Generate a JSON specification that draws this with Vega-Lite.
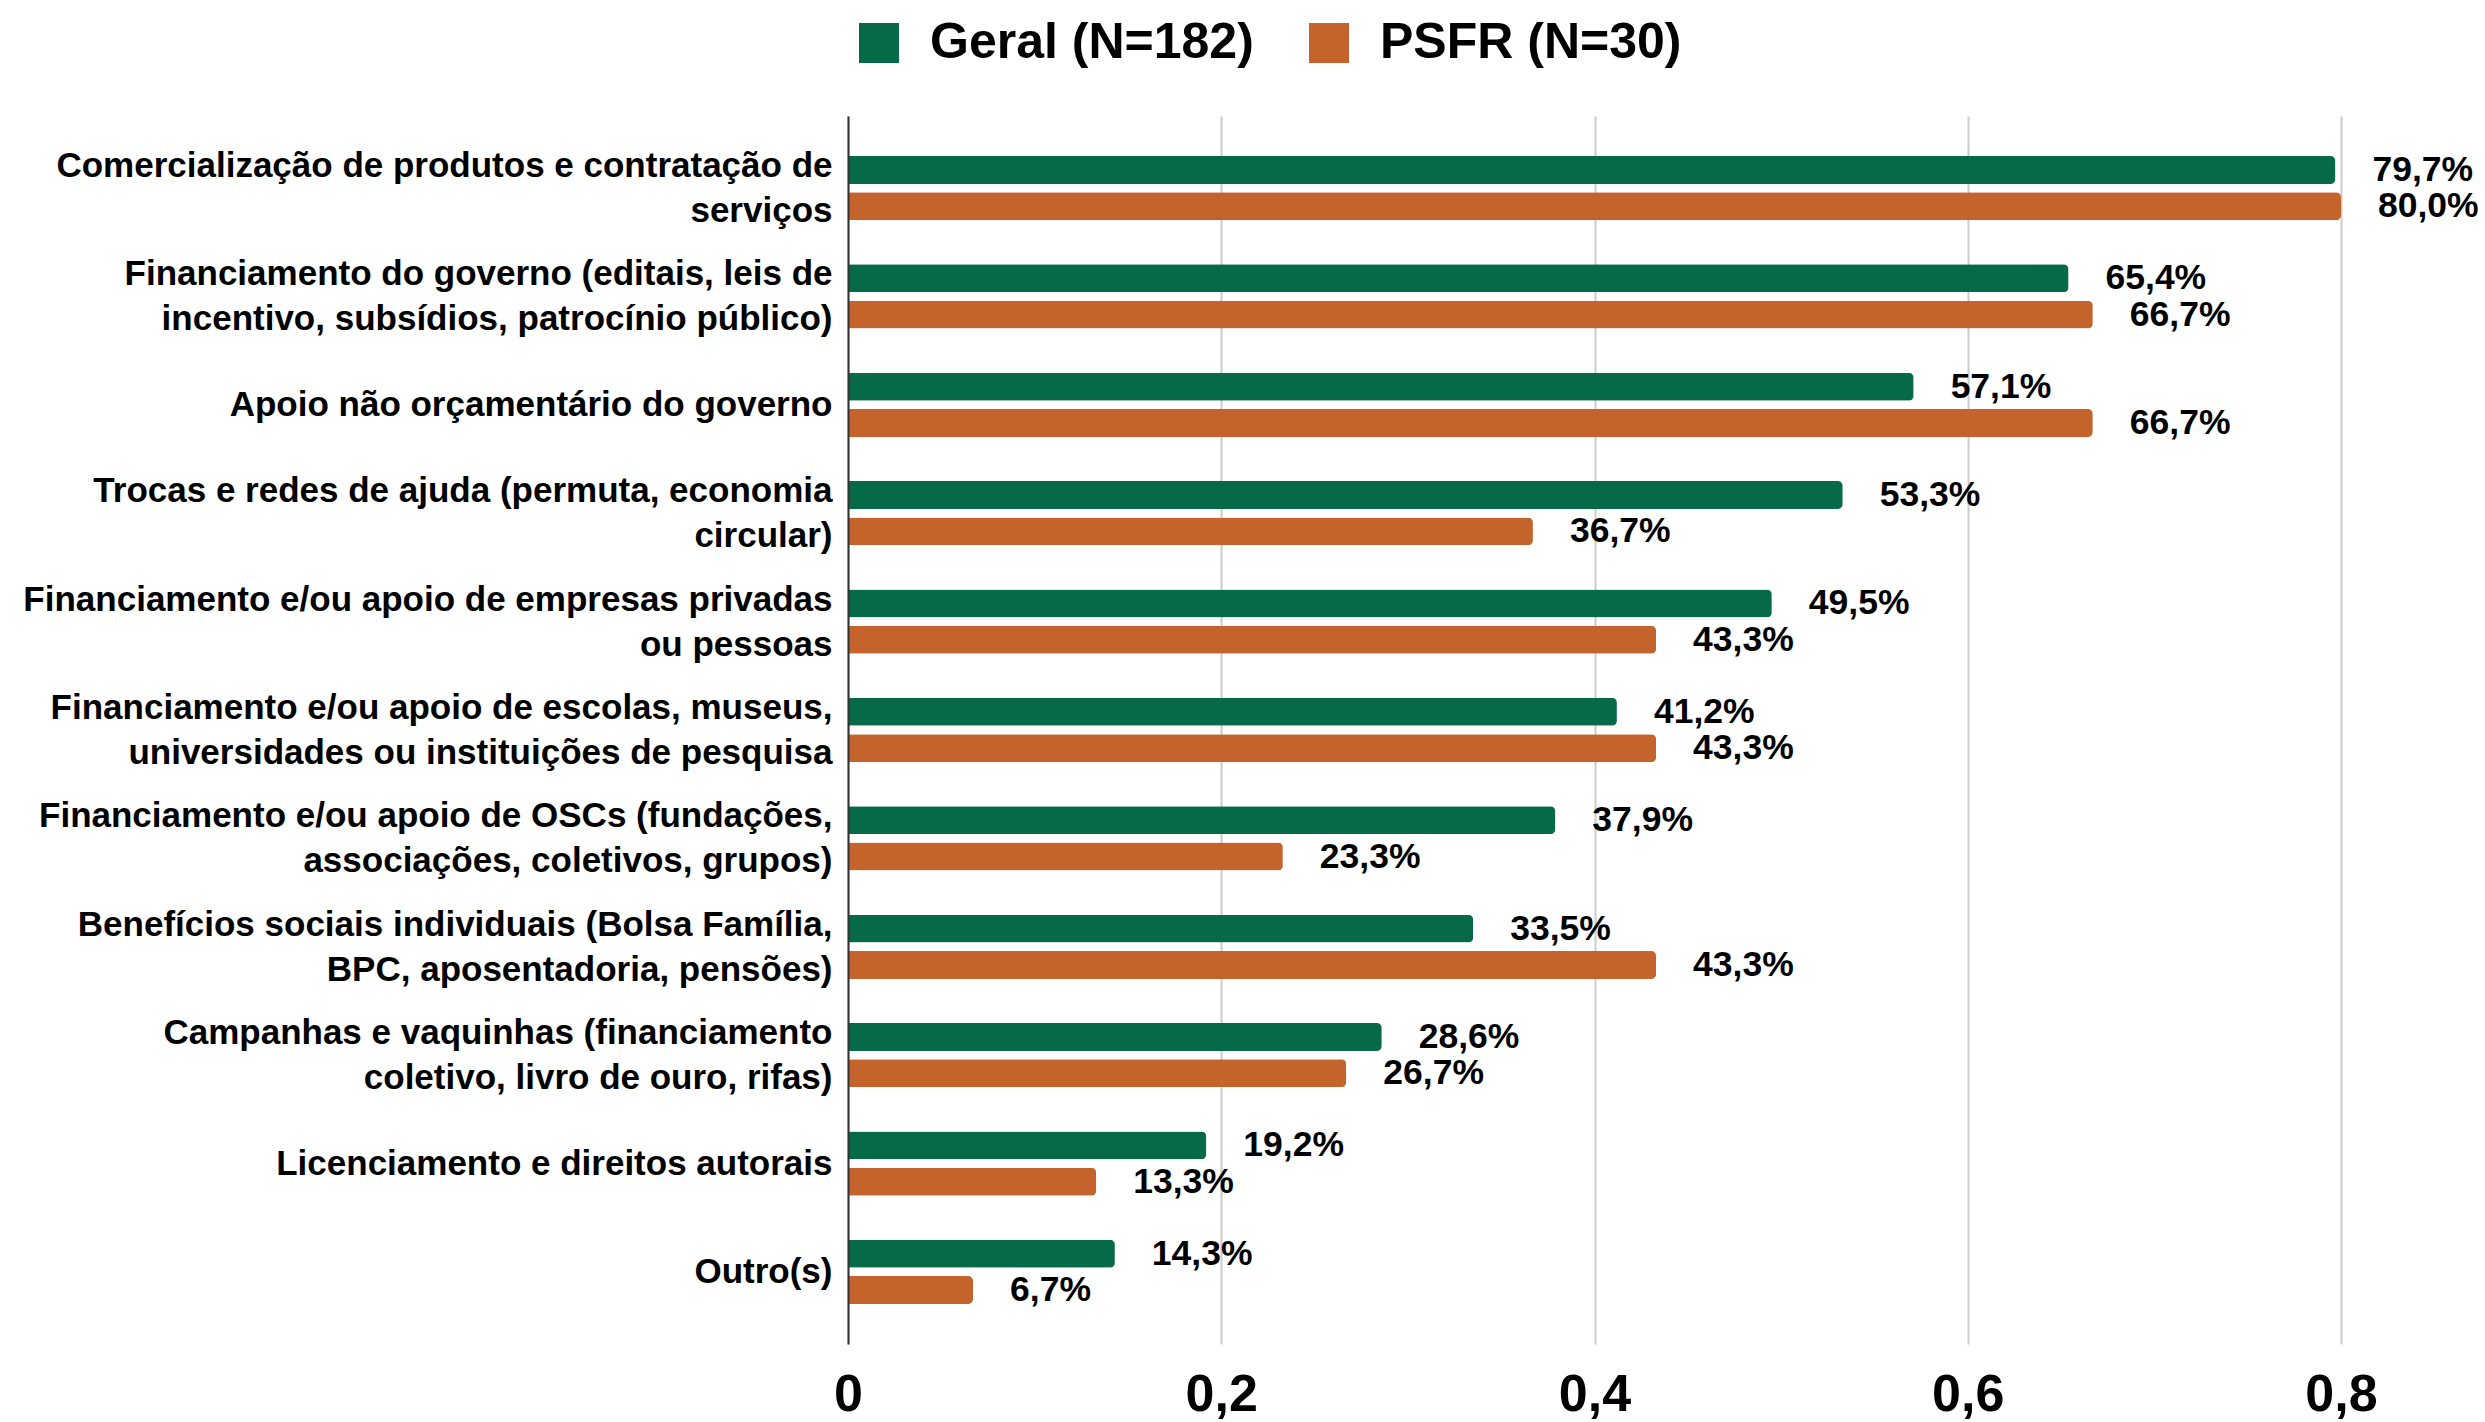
{
  "$schema": "https://vega.github.io/schema/vega-lite/v6.json",
  "width": 1493,
  "height": 1228,
  "autosize": {"type": "none"},
  "padding": {"left": 848, "top": 116, "right": 144, "bottom": 78},
  "background": "white",
  "data": {
    "values": [
      {"categoria": "Comercialização de produtos e contratação de\nserviços", "grupo": "Geral (N=182)", "valor": 0.797},
      {"categoria": "Comercialização de produtos e contratação de\nserviços", "grupo": "PSFR (N=30)", "valor": 0.800},
      {"categoria": "Financiamento do governo (editais, leis de\nincentivo, subsídios, patrocínio público)", "grupo": "Geral (N=182)", "valor": 0.654},
      {"categoria": "Financiamento do governo (editais, leis de\nincentivo, subsídios, patrocínio público)", "grupo": "PSFR (N=30)", "valor": 0.667},
      {"categoria": "Apoio não orçamentário do governo", "grupo": "Geral (N=182)", "valor": 0.571},
      {"categoria": "Apoio não orçamentário do governo", "grupo": "PSFR (N=30)", "valor": 0.667},
      {"categoria": "Trocas e redes de ajuda (permuta, economia\ncircular)", "grupo": "Geral (N=182)", "valor": 0.533},
      {"categoria": "Trocas e redes de ajuda (permuta, economia\ncircular)", "grupo": "PSFR (N=30)", "valor": 0.367},
      {"categoria": "Financiamento e/ou apoio de empresas privadas\nou pessoas", "grupo": "Geral (N=182)", "valor": 0.495},
      {"categoria": "Financiamento e/ou apoio de empresas privadas\nou pessoas", "grupo": "PSFR (N=30)", "valor": 0.433},
      {"categoria": "Financiamento e/ou apoio de escolas, museus,\nuniversidades ou instituições de pesquisa", "grupo": "Geral (N=182)", "valor": 0.412},
      {"categoria": "Financiamento e/ou apoio de escolas, museus,\nuniversidades ou instituições de pesquisa", "grupo": "PSFR (N=30)", "valor": 0.433},
      {"categoria": "Financiamento e/ou apoio de OSCs (fundações,\nassociações, coletivos, grupos)", "grupo": "Geral (N=182)", "valor": 0.379},
      {"categoria": "Financiamento e/ou apoio de OSCs (fundações,\nassociações, coletivos, grupos)", "grupo": "PSFR (N=30)", "valor": 0.233},
      {"categoria": "Benefícios sociais individuais (Bolsa Família,\nBPC, aposentadoria, pensões)", "grupo": "Geral (N=182)", "valor": 0.335},
      {"categoria": "Benefícios sociais individuais (Bolsa Família,\nBPC, aposentadoria, pensões)", "grupo": "PSFR (N=30)", "valor": 0.433},
      {"categoria": "Campanhas e vaquinhas (financiamento\ncoletivo, livro de ouro, rifas)", "grupo": "Geral (N=182)", "valor": 0.286},
      {"categoria": "Campanhas e vaquinhas (financiamento\ncoletivo, livro de ouro, rifas)", "grupo": "PSFR (N=30)", "valor": 0.267},
      {"categoria": "Licenciamento e direitos autorais", "grupo": "Geral (N=182)", "valor": 0.192},
      {"categoria": "Licenciamento e direitos autorais", "grupo": "PSFR (N=30)", "valor": 0.133},
      {"categoria": "Outro(s)", "grupo": "Geral (N=182)", "valor": 0.143},
      {"categoria": "Outro(s)", "grupo": "PSFR (N=30)", "valor": 0.067}
    ]
  },
  "encoding": {
    "y": {
      "field": "categoria",
      "type": "nominal",
      "sort": null,
      "scale": {"paddingInner": 0.33, "paddingOuter": 0.33},
      "axis": {
        "title": null,
        "labelExpr": "split(datum.value, '\\n')",
        "labelOffset": {"condition": {"test": "indexof(datum.value, '\\n') >= 0", "value": -22}, "value": 0},
        "labelFont": "Liberation Sans",
        "labelFontWeight": "bold",
        "labelFontSize": 35,
        "labelLineHeight": 45,
        "labelColor": "#000000",
        "labelPadding": 16,
        "labelLimit": 0,
        "ticks": false,
        "domain": true,
        "domainColor": "#333333",
        "domainWidth": 2,
        "grid": false,
        "zindex": 1
      }
    },
    "yOffset": {
      "field": "grupo",
      "type": "nominal",
      "scale": {"paddingInner": 0.23, "paddingOuter": 0.115}
    },
    "x": {
      "field": "valor",
      "type": "quantitative",
      "scale": {"domain": [0, 0.8], "nice": false, "zero": true},
      "axis": {
        "title": null,
        "values": [0, 0.2, 0.4, 0.6, 0.8],
        "format": ".1~f",
        "labelFont": "Liberation Sans",
        "labelFontWeight": "bold",
        "labelFontSize": 52,
        "labelColor": "#000000",
        "labelPadding": 25,
        "labelFlush": false,
        "ticks": false,
        "domain": false,
        "grid": true,
        "gridColor": "#cccccc",
        "gridWidth": 2
      }
    }
  },
  "layer": [
    {
      "mark": {"type": "bar", "cornerRadiusEnd": 5},
      "encoding": {
        "color": {
          "field": "grupo",
          "type": "nominal",
          "scale": {"domain": ["Geral (N=182)", "PSFR (N=30)"], "range": ["#066a48", "#c4642c"]},
          "legend": {
            "title": null,
            "orient": "none",
            "direction": "horizontal",
            "legendX": 6,
            "legendY": -98,
            "symbolType": "square",
            "symbolSize": 1600,
            "symbolStrokeWidth": 0,
            "labelFont": "Liberation Sans",
            "labelFontWeight": "bold",
            "labelFontSize": 50,
            "labelColor": "#000000",
            "labelOffset": 26,
            "labelLimit": 0,
            "columnPadding": 50,
            "padding": 0
          }
        }
      }
    },
    {
      "mark": {
        "type": "text",
        "align": "left",
        "baseline": "middle",
        "dx": 37,
        "font": "Liberation Sans",
        "fontWeight": "bold",
        "fontSize": 35.5,
        "color": "#000000"
      },
      "encoding": {
        "text": {"field": "valor", "type": "quantitative", "format": ".1%"}
      }
    }
  ],
  "config": {
    "view": {"stroke": null},
    "locale": {
      "number": {"decimal": ",", "thousands": ".", "grouping": [3], "currency": ["R$", ""]}
    }
  }
}
